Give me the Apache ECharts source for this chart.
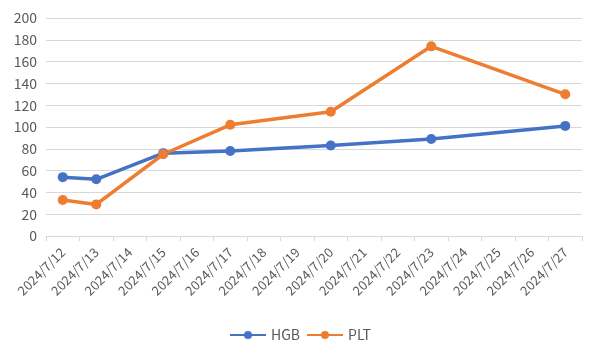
<!DOCTYPE html>
<html><head><meta charset="utf-8">
<script src="https://cdn.jsdelivr.net/npm/echarts@6/dist/echarts.min.js"></script>
<style>html,body{margin:0;padding:0;background:#fff}#c{width:600px;height:360px}</style>
</head><body><div id="c"></div>
<script>
const categories = ['2024/7/12','2024/7/13','2024/7/14','2024/7/15','2024/7/16','2024/7/17','2024/7/18','2024/7/19','2024/7/20','2024/7/21','2024/7/22','2024/7/23','2024/7/24','2024/7/25','2024/7/26','2024/7/27'];
const hgb = [54, 52, null, 76, null, 78, null, null, 83, null, null, 89, null, null, null, 101];
const plt = [33, 29, null, 75, null, 102, null, null, 114, null, null, 174, null, null, null, 130];
const yTicks = [0, 20, 40, 60, 80, 100, 120, 140, 160, 180, 200];

const font = '"Noto Sans CJK SC", "Noto Sans", sans-serif';
const chart = echarts.init(document.getElementById('c'));
chart.setOption({
  animation: false,
  grid: {left: 46, right: 18, top: 18, bottom: 124},
  legend: {
    bottom: 13, left: 'center', itemWidth: 36, itemHeight: 10, itemGap: 6,
    textStyle: {color: '#595959', fontSize: 14, fontFamily: font},
    data: ['HGB', 'PLT']
  },
  xAxis: {
    type: 'category', data: categories, boundaryGap: true,
    axisLine: {lineStyle: {color: '#d9d9d9'}},
    axisTick: {show: true, length: 5, lineStyle: {color: '#d9d9d9'}},
    axisLabel: {rotate: 45, color: '#595959', fontSize: 13, fontFamily: font, interval: 0, margin: 14}
  },
  yAxis: {
    type: 'value', min: yTicks[0], max: yTicks[yTicks.length - 1], interval: 20,
    axisLine: {show: false}, axisTick: {show: false},
    splitLine: {lineStyle: {color: '#d9d9d9'}},
    axisLabel: {color: '#595959', fontSize: 14, fontFamily: font, margin: 9}
  },
  series: [
    {name: 'HGB', type: 'line', data: hgb, connectNulls: true, symbol: 'circle', symbolSize: 10,
     itemStyle: {color: '#4472C4'}, lineStyle: {width: 3.5, color: '#4472C4'}},
    {name: 'PLT', type: 'line', data: plt, connectNulls: true, symbol: 'circle', symbolSize: 10,
     itemStyle: {color: '#ED7D31'}, lineStyle: {width: 3.5, color: '#ED7D31'}}
  ]
});
</script></body></html>
